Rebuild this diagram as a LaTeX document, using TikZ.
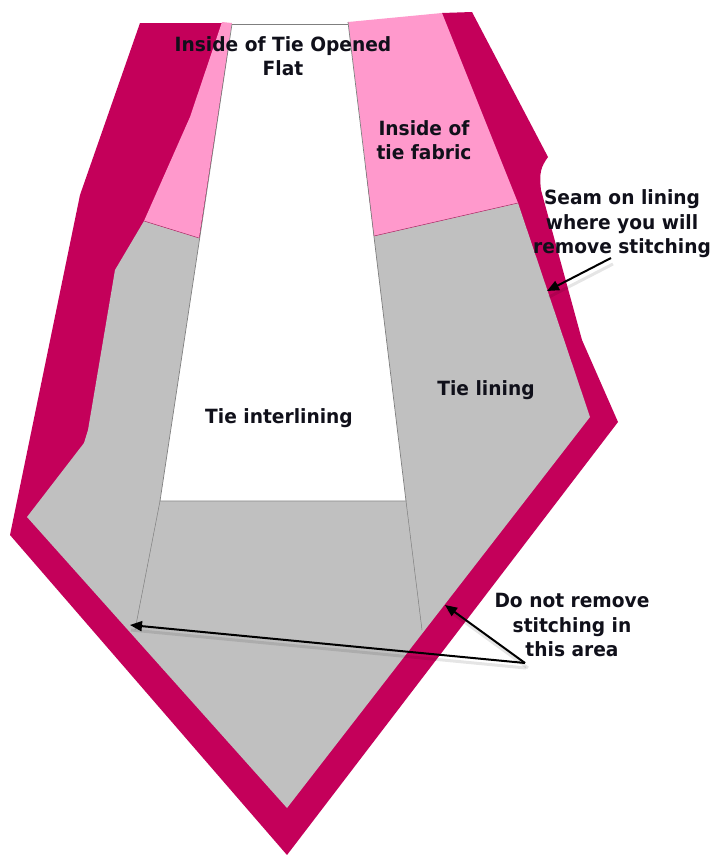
\documentclass[tikz,border=0pt]{standalone}
\usepackage{fontspec}
\setmainfont{DejaVu Sans}[UprightFeatures={FakeStretch=0.95},BoldFeatures={FakeStretch=0.95}]
\usetikzlibrary{arrows.meta}
\definecolor{crimsonband}{HTML}{C4005A}
\definecolor{pinkfabric}{HTML}{FF99CC}
\definecolor{greylining}{HTML}{C0C0C0}
\definecolor{seamline}{HTML}{7F7F7F}
\definecolor{labelink}{HTML}{10101A}
\tikzset{
  x=1pt,y=-1pt,
  band/.style={fill=crimsonband,draw=none},
  fabric/.style={fill=pinkfabric,draw=none},
  lining/.style={fill=greylining,draw=none},
  seam/.style={draw=seamline,line width=0.7pt},
  label/.style={font=\fontsize{19.6}{24.5}\selectfont\bfseries,align=center,text=labelink,inner sep=0pt},
  pointer/.style={-{Triangle[length=12pt,width=10pt]},line width=2pt,black},
  pointershadow/.style={line width=3pt,black,opacity=0.1},
}
\begin{document}
\begin{tikzpicture}
\useasboundingbox (0,0) rectangle (712,855);
\fill[white] (0,0) rectangle (712,855);
% outer crimson band
\path[band] (140,23) -- (222,23) -- (300,300) -- (442,13) -- (472,12) -- (548,157)
  .. controls (541,167) and (539,172) .. (541,190)
  -- (582,340) -- (618,422) -- (287,855) -- (10,535) -- (80,195) -- cycle;
% grey lining
\path[lining] (27,517) -- (84,443) -- (88,430) -- (115,270) -- (144,221) -- (199,238)
  -- (374,236) -- (518,203) -- (590,417) -- (287,808) -- cycle;
% pink fabric
\path[fabric] (222,22) -- (232,23) -- (199,238) -- (144,221) -- (190,117) -- cycle;
\path[fabric] (348,22) -- (442,13) -- (518,203) -- (374,236) -- cycle;
% white interlining
\path[fill=white] (232,24) -- (348,24) -- (406,501) -- (160,501) -- cycle;
% seams
\draw[seam] (232,24) -- (348,24);
\draw[seam] (232,24) -- (160,501) -- (406,501) -- (348,22);
\draw[seam,line width=0.5pt] (160,501) -- (135,630);
\draw[seam,line width=0.5pt] (406,501) -- (422,630);
\draw[seam,line width=0.5pt,crimsonband!60!seamline] (144,221) -- (199,238);
\draw[seam,line width=0.5pt,crimsonband!60!seamline] (374,236) -- (518,203);
% labels
\node[label] (title) at (283,56) {Inside of Tie Opened\\Flat};
\node[label] (fabriclabel) at (424,140) {Inside of\\tie fabric};
\node[label] (seamlabel) at (622,224) {Seam on lining\\where you will\\remove stitching};
\node[label] (lininglabel) at (486,390) {Tie lining};
\node[label] (interlabel) at (279,418) {Tie interlining};
\node[label] (stitchlabel) at (572,625) {Do not remove\\stitching in\\this area};
% arrow ends
\coordinate (seamstart) at (611,258);
\coordinate (seamtip) at (547,291);
\coordinate (stitchstart) at (525,663);
\coordinate (lefttip) at (130,625);
\coordinate (righttip) at (445,605);
% shadows
\draw[pointershadow] ([shift={(2,6)}]seamstart) -- ([shift={(2,6)}]seamtip);
\draw[pointershadow] ([shift={(1,5)}]stitchstart) -- ([shift={(1,5)}]lefttip);
\draw[pointershadow] ([shift={(3,5)}]stitchstart) -- ([shift={(3,5)}]righttip);
% arrows
\draw[pointer] (seamstart) -- (seamtip);
\draw[pointer] (stitchstart) -- (lefttip);
\draw[pointer] (stitchstart) -- (righttip);
\end{tikzpicture}
\end{document}
